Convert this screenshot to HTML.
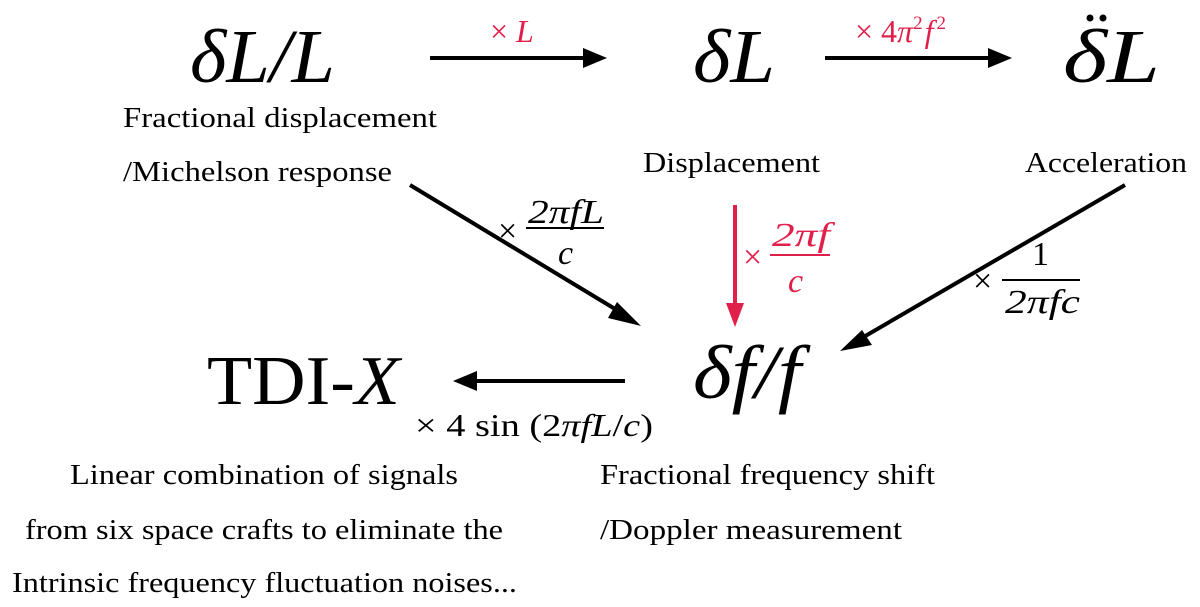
<!DOCTYPE html>
<html><head><meta charset="utf-8"><style>
html,body{margin:0;padding:0;background:#fff;}
svg{display:block}
.m{font-family:"Liberation Serif",serif;font-style:italic;fill:#000}
.t{font-family:"Liberation Serif",serif;fill:#000;font-size:29px}
.r{fill:#e0204a}
</style></head><body>
<svg width="1200" height="607" viewBox="0 0 1200 607" xmlns="http://www.w3.org/2000/svg">
<!-- top row -->
<text class="m" x="190" y="82" font-size="76" textLength="145" lengthAdjust="spacingAndGlyphs">δL/L</text>
<text class="m" x="693" y="82" font-size="76" textLength="82" lengthAdjust="spacingAndGlyphs">δL</text>
<text class="m" x="1063" y="82" font-size="76" textLength="97" lengthAdjust="spacingAndGlyphs">δL</text>
<circle cx="1090" cy="18" r="3.5" fill="#000"/><circle cx="1103" cy="18" r="3.5" fill="#000"/>
<!-- arrows top -->
<line x1="430" y1="58" x2="585" y2="58" stroke="#000" stroke-width="4"/>
<path d="M583,48 L607,58 L583,68 z" fill="#000"/>
<text class="r" x="490" y="42" font-family="Liberation Serif,serif" font-size="32">× <tspan font-style="italic">L</tspan></text>
<line x1="825" y1="58" x2="990" y2="58" stroke="#000" stroke-width="4"/>
<path d="M988,48 L1012,58 L988,68 z" fill="#000"/>
<text class="r" x="855" y="42" font-family="Liberation Serif,serif" font-size="32">× 4<tspan font-style="italic">π</tspan><tspan font-size="19" dy="-13">2</tspan><tspan font-style="italic" dy="13" dx="2">f</tspan><tspan font-size="19" dy="-13" dx="3">2</tspan></text>
<!-- labels -->
<text class="t" x="123" y="127" textLength="314" lengthAdjust="spacingAndGlyphs">Fractional displacement</text>
<text class="t" x="123" y="181" textLength="269" lengthAdjust="spacingAndGlyphs">/Michelson response</text>
<text class="t" x="643" y="172" textLength="177" lengthAdjust="spacingAndGlyphs">Displacement</text>
<text class="t" x="1025" y="172" textLength="162" lengthAdjust="spacingAndGlyphs">Acceleration</text>
<!-- diagonal left -->
<line x1="410" y1="185" x2="625" y2="315" stroke="#000" stroke-width="4"/>
<path d="M617,302 L641,326 L608,318 z" fill="#000"/>
<text x="498" y="242" font-family="Liberation Serif,serif" font-size="34">×</text>
<text class="m" x="528" y="223" font-size="34" textLength="76" lengthAdjust="spacingAndGlyphs">2πfL</text>
<line x1="526" y1="228" x2="604" y2="228" stroke="#000" stroke-width="2"/>
<text class="m" x="558" y="264" font-size="34">c</text>
<!-- red vertical -->
<line x1="735" y1="205" x2="735" y2="305" stroke="#e0204a" stroke-width="4"/>
<path d="M726,303 L744,303 L735,327 z" fill="#e0204a"/>
<text class="r" x="743" y="268" font-family="Liberation Serif,serif" font-size="34">×</text>
<text class="m r" x="772" y="246" font-size="34" textLength="58" lengthAdjust="spacingAndGlyphs">2πf</text>
<line x1="770" y1="255" x2="830" y2="255" stroke="#e0204a" stroke-width="2"/>
<text class="m r" x="788" y="292" font-size="34">c</text>
<!-- diagonal right -->
<line x1="1125" y1="185" x2="855" y2="342" stroke="#000" stroke-width="4"/>
<path d="M862,330 L840,351 L872,345 z" fill="#000"/>
<text x="973" y="292" font-family="Liberation Serif,serif" font-size="34">×</text>
<text x="1032" y="265" font-family="Liberation Serif,serif" font-size="34">1</text>
<line x1="1002" y1="280" x2="1080" y2="280" stroke="#000" stroke-width="2"/>
<text class="m" x="1005" y="313" font-size="34" textLength="75" lengthAdjust="spacingAndGlyphs">2πfc</text>
<!-- bottom row -->
<text x="207" y="404" font-family="Liberation Serif,serif" font-size="70" textLength="193" lengthAdjust="spacingAndGlyphs">TDI-<tspan font-style="italic">X</tspan></text>
<text class="m" x="693" y="398" font-size="76" textLength="108" lengthAdjust="spacingAndGlyphs">δf/f</text>
<line x1="625" y1="381" x2="475" y2="381" stroke="#000" stroke-width="4"/>
<path d="M477,371 L453,381 L477,391 z" fill="#000"/>
<text x="415" y="436" font-family="Liberation Serif,serif" font-size="32" textLength="238" lengthAdjust="spacingAndGlyphs">× 4 sin (2<tspan font-style="italic">πfL</tspan>/<tspan font-style="italic">c</tspan>)</text>
<!-- bottom text -->
<text class="t" x="70" y="484" textLength="388" lengthAdjust="spacingAndGlyphs">Linear combination of signals</text>
<text class="t" x="25" y="539" textLength="478" lengthAdjust="spacingAndGlyphs">from six space crafts to eliminate the</text>
<text class="t" x="12" y="592" textLength="505" lengthAdjust="spacingAndGlyphs">Intrinsic frequency fluctuation noises...</text>
<text class="t" x="600" y="484" textLength="335" lengthAdjust="spacingAndGlyphs">Fractional frequency shift</text>
<text class="t" x="600" y="539" textLength="302" lengthAdjust="spacingAndGlyphs">/Doppler measurement</text>
</svg>
</body></html>
